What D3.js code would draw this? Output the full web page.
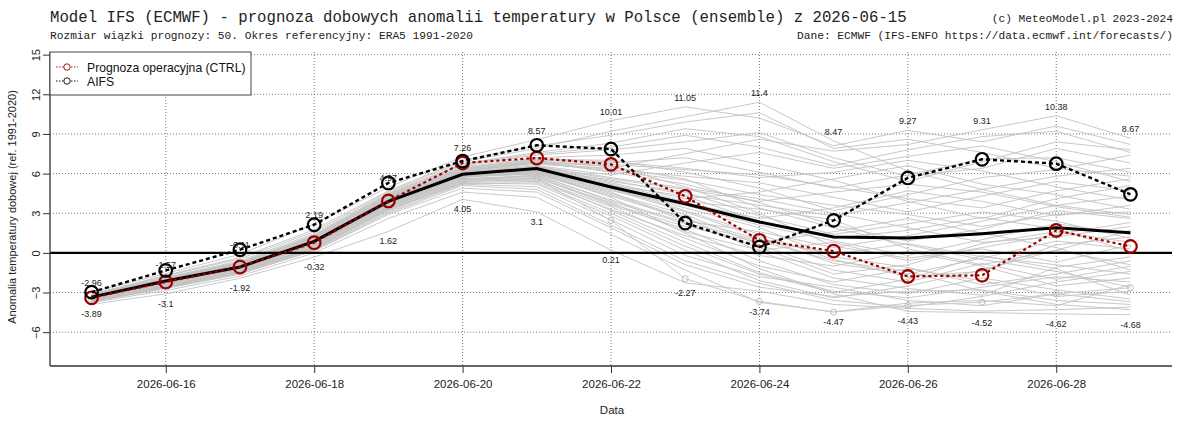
<!DOCTYPE html>
<html><head><meta charset="utf-8">
<script src="https://cdn.jsdelivr.net/npm/d3@7/dist/d3.min.js"></script>
<style>
html,body{margin:0;padding:0;background:#fff;}
svg{display:block;}
</style></head>
<body>
<svg id="chart" width="1200" height="429"></svg>
<script>
// ---------------- DATA ----------------
const startDate = "2026-06-15";
const days = ["2026-06-15","2026-06-16","2026-06-17","2026-06-18","2026-06-19","2026-06-20","2026-06-21","2026-06-22","2026-06-23","2026-06-24","2026-06-25","2026-06-26","2026-06-27","2026-06-28","2026-06-29"];
const xTickLabels = ["2026-06-16","2026-06-18","2026-06-20","2026-06-22","2026-06-24","2026-06-26","2026-06-28"];
const yTicks = [-6,-3,0,3,6,9,12,15];

const ctrl = [-3.40,-2.20,-1.07,0.77,3.93,6.80,7.18,6.70,4.28,0.95,0.14,-1.78,-1.70,1.70,0.49];
const aifs = [-2.97,-1.33,0.24,2.13,5.29,6.95,8.14,7.86,2.26,0.44,2.46,5.67,7.08,6.75,4.43];
const ensMean = [-3.35,-2.13,-1.07,0.87,3.90,5.95,6.38,4.99,3.72,2.34,1.20,1.12,1.45,1.90,1.53];
const markedMember = [-3.50,-2.40,-1.30,0.50,3.50,5.50,5.60,2.46,-1.96,-3.67,-4.48,-3.98,-3.73,-3.09,-2.64];

const members = [
[-3.45,-2.30,-1.20,0.60,3.60,5.70,6.10,4.20,1.50,-1.20,-3.10,-4.43,-4.52,-4.62,-4.68],
[-3.30,-2.05,-0.95,1.00,4.10,6.20,6.90,6.10,5.20,3.80,2.10,0.90,1.80,3.20,2.60],
[-3.60,-2.50,-1.40,0.40,3.20,5.40,5.60,3.20,0.80,-1.50,-2.90,-3.40,-2.60,-1.80,-2.20],
[-3.20,-1.90,-0.70,1.30,4.40,6.60,7.40,7.80,8.40,9.10,7.20,5.80,6.40,7.90,6.80],
[-3.50,-2.35,-1.25,0.70,3.80,5.90,6.20,4.80,3.10,1.20,-0.80,-1.60,-0.40,0.90,0.30],
[-3.40,-2.20,-1.10,0.90,4.00,6.00,6.50,5.40,4.60,2.80,1.40,2.20,3.10,2.40,1.10],
[-3.15,-1.75,-0.45,1.60,4.60,6.90,7.90,9.20,10.30,11.40,8.47,6.20,4.80,3.60,2.90],
[-3.70,-2.70,-1.60,0.20,3.00,5.10,4.80,2.10,-0.60,-2.30,-3.60,-4.10,-3.30,-2.20,-1.40],
[-3.35,-2.15,-1.05,0.85,3.95,6.05,6.60,5.90,6.80,7.60,6.40,7.30,8.10,6.90,5.40],
[-3.55,-2.40,-1.30,0.50,3.50,5.50,5.90,3.90,2.20,0.40,-1.60,-0.90,0.70,1.60,0.80],
[-3.25,-1.95,-0.80,1.20,4.30,6.40,7.10,7.00,6.10,4.90,3.20,4.40,5.70,6.30,7.40],
[-3.48,-2.28,-1.18,0.65,3.70,5.80,6.00,4.40,2.70,0.10,-1.90,-2.70,-3.20,-1.10,-0.30],
[-3.38,-2.18,-1.08,0.88,3.90,6.10,6.70,6.40,7.50,8.60,7.70,8.20,9.31,10.38,8.67],
[-3.62,-2.55,-1.45,0.30,3.30,5.30,5.20,2.80,0.20,-2.10,-3.40,-2.50,-1.30,0.20,-0.90],
[-3.28,-2.00,-0.90,1.10,4.20,6.30,6.95,6.50,5.60,3.40,1.90,0.60,-0.50,-1.40,-2.60],
[-3.42,-2.25,-1.15,0.75,3.85,5.95,6.30,5.00,3.80,2.60,3.40,4.70,3.90,2.80,3.60],
[-2.96,-1.57,-0.11,2.19,4.97,7.26,8.57,10.01,11.05,10.20,8.10,9.27,8.40,9.60,8.20],
[-3.52,-2.42,-1.32,0.55,3.55,5.60,5.70,3.60,1.80,-0.60,-2.40,-3.10,-1.90,-2.80,-3.50],
[-3.32,-2.10,-1.00,0.95,4.05,6.15,6.80,6.60,5.00,3.00,0.50,-0.40,0.30,-0.70,0.60],
[-3.58,-2.48,-1.38,0.42,3.40,5.45,5.50,3.50,1.10,-1.00,-2.20,-1.20,-2.10,-3.30,-2.90],
[-3.22,-1.92,-0.78,1.25,4.35,6.50,7.20,7.40,7.90,6.70,5.50,3.90,2.60,4.10,5.10],
[-3.46,-2.26,-1.16,0.72,3.78,5.85,6.15,4.60,2.40,1.60,0.40,1.30,2.40,3.60,4.30],
[-3.36,-2.16,-1.06,0.86,3.92,6.02,6.45,5.30,4.10,4.60,5.60,6.60,5.20,4.40,3.30],
[-3.66,-2.62,-1.52,0.25,3.10,5.20,5.00,2.50,-0.20,-1.80,-2.60,-3.60,-4.00,-3.10,-3.70],
[-3.18,-1.85,-0.60,1.45,4.50,6.75,7.60,8.30,9.40,8.80,6.90,5.40,6.90,8.40,7.80],
[-3.44,-2.24,-1.14,0.78,3.82,5.88,6.25,4.90,3.40,1.90,-0.30,-1.10,-2.40,-1.60,-0.60],
[-3.30,-2.08,-0.98,0.98,4.08,6.18,6.85,6.30,5.80,5.30,4.20,3.10,4.30,5.40,4.70],
[-3.54,-2.45,-1.35,0.52,3.52,5.55,5.80,3.70,2.00,0.80,1.60,2.60,1.50,0.40,-1.30],
[-3.40,-2.21,-1.11,0.82,3.88,5.98,6.40,5.20,3.90,3.30,2.50,0.30,-0.90,0.20,1.70],
[-3.75,-2.85,-1.75,0.00,2.60,4.60,4.20,1.40,-1.30,-3.74,-4.47,-3.80,-3.60,-4.00,-2.40],
[-3.26,-1.98,-0.85,1.15,4.25,6.35,7.00,6.80,7.20,6.10,4.90,5.90,7.10,7.20,6.10],
[-3.50,-2.32,-1.22,0.68,3.72,5.78,6.05,4.50,2.90,0.60,-1.30,-2.20,-0.80,-2.00,-1.00],
[-3.34,-2.12,-1.02,0.92,4.00,6.08,6.55,5.70,4.90,4.10,3.00,1.90,0.80,1.20,2.00],
[-3.60,-2.52,-1.42,0.38,3.35,5.35,5.40,3.30,1.30,-0.20,-1.00,0.10,-1.00,-2.50,-1.90],
[-3.12,-1.70,-0.35,1.75,4.70,7.00,8.10,8.90,9.90,10.60,7.90,8.60,7.60,6.40,5.80],
[-3.47,-2.27,-1.17,0.70,3.75,5.82,6.12,4.70,3.60,2.10,0.90,-0.20,1.00,2.20,1.40],
[-3.38,-2.17,-1.07,0.84,3.90,6.00,6.35,5.50,4.40,3.60,2.80,3.80,4.80,5.80,6.40],
[-3.64,-2.58,-1.48,0.32,3.25,5.25,5.30,3.00,0.50,-1.60,-3.00,-2.00,-0.20,-1.20,-3.20],
[-3.24,-1.96,-0.82,1.18,4.28,6.42,7.05,6.90,6.40,5.70,6.10,7.00,6.20,5.00,4.00],
[-3.43,-2.23,-1.13,0.77,3.83,5.90,6.20,4.90,3.20,1.40,-0.50,-1.80,-1.40,0.60,1.20],
[-3.56,-2.46,-1.36,0.46,3.45,5.48,5.65,3.80,1.60,0.20,0.80,-0.60,0.40,1.40,2.30],
[-3.31,-2.09,-0.99,0.97,4.06,6.16,6.82,6.20,5.50,4.40,3.60,2.90,2.00,2.90,3.10],
[-3.89,-3.10,-1.92,-0.32,1.62,4.05,3.10,0.21,-2.27,-2.90,-3.90,-4.20,-4.40,-4.30,-4.10],
[-3.20,-1.88,-0.72,1.35,4.45,6.70,7.50,8.00,8.90,8.00,6.60,7.80,8.80,9.20,7.60],
[-3.49,-2.29,-1.19,0.66,3.68,5.75,5.95,4.30,2.60,1.00,-0.10,0.70,-0.30,-0.90,-1.60],
[-3.37,-2.14,-1.04,0.89,3.96,6.04,6.52,5.60,4.80,3.90,4.60,5.20,4.60,3.50,2.70],
[-3.68,-2.66,-1.56,0.15,2.90,4.90,4.60,1.90,-0.90,-2.60,-3.30,-2.90,-2.80,-3.60,-3.90],
[-3.29,-2.03,-0.93,1.05,4.15,6.25,6.88,6.70,6.30,5.90,5.00,4.10,3.40,4.70,5.60],
[-3.53,-2.38,-1.28,0.58,3.58,5.62,5.85,4.00,2.30,0.90,-0.60,-1.40,-2.90,-3.90,-4.30],
[-3.41,-2.19,-1.09,0.80,3.86,5.92,6.28,5.10,4.30,2.40,1.10,1.70,2.70,1.80,0.10]
];

const titleText = "Model IFS (ECMWF) - prognoza dobowych anomalii temperatury w Polsce (ensemble) z 2026-06-15";
const subtitleText = "Rozmiar wiązki prognozy: 50. Okres referencyjny: ERA5 1991-2020";
const copyrightText = "(c) MeteoModel.pl 2023-2024";
const sourceText = "Dane: ECMWF (IFS-ENFO https://data.ecmwf.int/forecasts/)";
const yLabel = "Anomalia temperatury dobowej (ref. 1991-2020)";
const xLabel = "Data";
const legendLabels = ["Prognoza operacyjna (CTRL)", "AIFS"];

// ---------------- CHART ----------------
const svg = d3.select("#chart");
const L = 50, R = 1172, T = 52, B = 366;
const parse = d3.utcParse("%Y-%m-%d");
const dayMs = 864e5;
const dates = days.map(parse);
const x = d3.scaleUtc()
  .domain([new Date(+dates[0] - 0.56*dayMs), new Date(+dates[dates.length-1] + 0.56*dayMs)])
  .range([L, R]);
const y = d3.scaleLinear().domain([-8.56, 15.2]).range([B, T]);

const sans = "'Liberation Sans', Arial, Helvetica, sans-serif";
const mono = "'Liberation Mono', 'DejaVu Sans Mono', monospace";

// grid
const grid = svg.append("g").attr("stroke", "#555").attr("stroke-width", 0.8).attr("stroke-dasharray", "1,2");
grid.selectAll("line.h").data(yTicks).join("line")
  .attr("x1", L).attr("x2", R).attr("y1", d => y(d)).attr("y2", d => y(d));
grid.selectAll("line.v").data(xTickLabels.map(parse)).join("line")
  .attr("x1", d => x(d)).attr("x2", d => x(d)).attr("y1", T).attr("y2", B);

// ensemble members
const line = d3.line().x((d, i) => x(dates[i])).y(d => y(d));
svg.append("g").selectAll("path").data(members).join("path")
  .attr("d", line).attr("fill", "none").attr("stroke", "#c2c2c2").attr("stroke-width", 0.9);

// marked member
svg.append("path").datum(markedMember).attr("d", line)
  .attr("fill", "none").attr("stroke", "#cccccc").attr("stroke-width", 1);
svg.append("g").selectAll("circle").data(markedMember).join("circle")
  .attr("cx", (d, i) => x(dates[i])).attr("cy", d => y(d)).attr("r", 3)
  .attr("fill", "none").attr("stroke", "#bdbdbd").attr("stroke-width", 1);

// zero line
svg.append("line").attr("x1", L).attr("x2", R).attr("y1", y(0)).attr("y2", y(0))
  .attr("stroke", "#000").attr("stroke-width", 2.2);

// ensemble mean
svg.append("path").datum(ensMean).attr("d", line)
  .attr("fill", "none").attr("stroke", "#000").attr("stroke-width", 3);

// CTRL
const red = "#9a0000";
svg.append("path").datum(ctrl).attr("d", line)
  .attr("fill", "none").attr("stroke", red).attr("stroke-width", 2.2).attr("stroke-dasharray", "3,3");
svg.append("g").selectAll("circle").data(ctrl).join("circle")
  .attr("cx", (d, i) => x(dates[i])).attr("cy", d => y(d)).attr("r", 6.3)
  .attr("fill", "none").attr("stroke", red).attr("stroke-width", 2.2);

// AIFS
svg.append("path").datum(aifs).attr("d", line)
  .attr("fill", "none").attr("stroke", "#000").attr("stroke-width", 2.4).attr("stroke-dasharray", "4,3");
svg.append("g").selectAll("circle").data(aifs).join("circle")
  .attr("cx", (d, i) => x(dates[i])).attr("cy", d => y(d)).attr("r", 6.3)
  .attr("fill", "none").attr("stroke", "#000").attr("stroke-width", 2.2);

// max / min labels
const fmt = v => String(Math.round(v * 100) / 100);
const maxV = dates.map((d, i) => d3.max(members, m => m[i]));
const minV = dates.map((d, i) => d3.min(members, m => m[i]));
const lab = svg.append("g").attr("font-family", sans).attr("font-size", 9).attr("fill", "#222").attr("text-anchor", "middle");
lab.selectAll("text.mx").data(maxV).join("text")
  .attr("x", (d, i) => x(dates[i])).attr("y", d => y(d) - 6).text(fmt);
lab.selectAll("text.mn").data(minV).join("text")
  .attr("x", (d, i) => x(dates[i])).attr("y", d => y(d) + 13).text(fmt);

// frame (L-shaped)
svg.append("line").attr("x1", L).attr("x2", L).attr("y1", T).attr("y2", B).attr("stroke", "#333").attr("stroke-width", 1.3);
svg.append("line").attr("x1", L).attr("x2", R).attr("y1", B).attr("y2", B).attr("stroke", "#333").attr("stroke-width", 1.3);

// axes
const yAxis = svg.append("g").attr("transform", `translate(${L},0)`)
  .call(d3.axisLeft(y).tickValues(yTicks).tickSize(7).tickFormat(d3.format("d")));
yAxis.select(".domain").remove();
yAxis.selectAll("line").attr("stroke", "#333");
yAxis.selectAll("text").attr("x", null).attr("dy", null).attr("y", -10)
  .attr("transform", "rotate(-90)").attr("text-anchor", "middle")
  .attr("font-family", sans).attr("font-size", 11).attr("fill", "#222");

const xAxis = svg.append("g").attr("transform", `translate(0,${B})`)
  .call(d3.axisBottom(x).tickValues(xTickLabels.map(parse)).tickSize(7).tickFormat(d3.utcFormat("%Y-%m-%d")));
xAxis.select(".domain").remove();
xAxis.selectAll("line").attr("stroke", "#333");
xAxis.selectAll("text").attr("y", 14).attr("dy", "0.71em")
  .attr("font-family", sans).attr("font-size", 11.5).attr("fill", "#222");

// axis titles
svg.append("text").attr("x", 612).attr("y", 414).attr("text-anchor", "middle")
  .attr("font-family", sans).attr("font-size", 11.5).attr("fill", "#222").text(xLabel);
svg.append("text").attr("transform", `translate(16,${(T + B) / 2 - 2}) rotate(-90)`).attr("text-anchor", "middle")
  .attr("font-family", sans).attr("font-size", 11).attr("fill", "#222").text(yLabel);

// titles
svg.append("text").attr("x", 50).attr("y", 22).attr("font-family", mono).attr("font-size", 15.7)
  .attr("fill", "#222").attr("xml:space", "preserve").text(titleText);
svg.append("text").attr("x", 50).attr("y", 39).attr("font-family", mono).attr("font-size", 11.2)
  .attr("fill", "#222").text(subtitleText);
svg.append("text").attr("x", 1173).attr("y", 22).attr("text-anchor", "end").attr("font-family", mono).attr("font-size", 11.2)
  .attr("fill", "#222").text(copyrightText);
svg.append("text").attr("x", 1173).attr("y", 39).attr("text-anchor", "end").attr("font-family", mono).attr("font-size", 11.2)
  .attr("fill", "#222").text(sourceText);

// legend
const lg = svg.append("g");
lg.append("rect").attr("x", L).attr("y", T).attr("width", 201).attr("height", 43)
  .attr("fill", "#fff").attr("stroke", "#444").attr("stroke-width", 1);
const legendColors = [red, "#000"];
legendLabels.forEach((t, i) => {
  const yy = T + 15 + i * 14;
  lg.append("line").attr("x1", 56).attr("x2", 78).attr("y1", yy).attr("y2", yy)
    .attr("stroke", legendColors[i]).attr("stroke-width", 0.9).attr("stroke-dasharray", "1.5,1.5");
  lg.append("circle").attr("cx", 67).attr("cy", yy).attr("r", 3.2)
    .attr("fill", "#fff").attr("stroke", legendColors[i]).attr("stroke-width", 0.9);
  lg.append("text").attr("x", 87).attr("y", yy + 4.5).attr("font-family", sans).attr("font-size", 12.2)
    .attr("fill", "#111").text(t);
});
</script>
</body></html>
